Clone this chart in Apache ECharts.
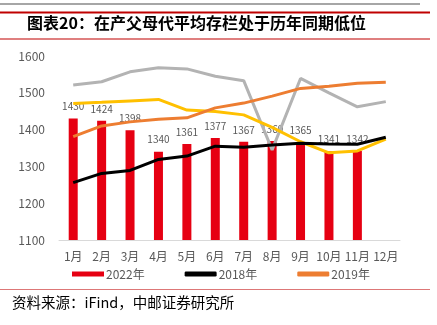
<!DOCTYPE html>
<html><head><meta charset="utf-8">
<script src="https://cdn.jsdelivr.net/npm/echarts@6/dist/echarts.min.js"></script>
<style>html,body{margin:0;padding:0;background:#fff}#c{width:437px;height:325px}</style>
</head><body><div id="c"></div>
<script>
var categories = ['1月','2月','3月','4月','5月','6月','7月','8月','9月','10月','11月','12月'];
var s2022 = [1430,1424,1398,1340,1361,1377,1367,1369,1365,1341,1342,null];
var s2018 = [1256,1281,1289,1319,1328,1355,1352,1358,1363,1361,1360,1379];
var s2019 = [1381,1410,1421,1428,1432,1459,1472,1491,1512,1518,1526,1529];
var sGray = [1521,1530,1557,1568,1565,1545,1533,1345,1539,1500,1462,1476];
var sYellow = [1471,1474,1478,1482,1453,1449,1440,1406,1367,1337,1342,1374];
var yTicks = [1100,1200,1300,1400,1500,1600];
var titleText = '图表20：在产父母代平均存栏处于历年同期低位';
var sourceText = '资料来源：iFind，中邮证券研究所';

var chart = echarts.init(document.getElementById('c'));
var font = '"Microsoft YaHei","Noto Sans CJK SC",sans-serif';
chart.setOption({
  animation: false,
  textStyle: {fontFamily: font},
  graphic: [
    {type:'rect', shape:{x:0,y:3,width:420,height:2}, style:{fill:'#a6a6a6'}},
    {type:'rect', shape:{x:0,y:11.5,width:430,height:2}, style:{fill:'#c00000'}},
    {type:'text', left:27, top:15, style:{text:titleText, font:'bold 16px "Noto Sans CJK SC"', fill:'#000'}},
    {type:'rect', shape:{x:0,y:38.5,width:430,height:1}, style:{fill:'#c00000'}},
    {type:'rect', shape:{x:0,y:289,width:430,height:1}, style:{fill:'#d77'}},
    {type:'text', left:12, top:295, style:{text:sourceText, font:'14.5px "Noto Sans CJK SC"', fill:'#000'}}
  ],
  grid: {left:59, right:37, top:56, bottom:85, containLabel:false},
  legend: {
    data: [
      {name:'2022年', icon:'rect'},
      {name:'2018年', icon:'roundRect', itemStyle:{borderWidth:0}},
      {name:'2019年', icon:'roundRect', itemStyle:{borderWidth:0}}
    ],
    bottom: 40, left: 67, itemGap: 40, itemWidth: 32, itemHeight: 5,
    textStyle: {color:'#595959', fontSize:12, fontFamily:font, padding:[0,0,0,-3]}
  },
  xAxis: {
    type:'category', data: categories,
    axisLine:{lineStyle:{color:'#d9d9d9'}}, axisTick:{show:false},
    axisLabel:{color:'#595959', fontSize:12, margin:10, interval:0}
  },
  yAxis: {
    type:'value', min:1100, max:1600, interval:100,
    axisLine:{show:false}, axisTick:{show:false}, splitLine:{show:false},
    axisLabel:{color:'#595959', fontSize:12, margin:14, formatter: function(v){return String(v);}}
  },
  series: [
    {name:'2022年', type:'bar', data:s2022, barWidth:9, itemStyle:{color:'#e60012'},
     label:{show:true, position:'top', distance:7, color:'#595959', fontSize:10}, z:1},
    {name:'2020年', type:'line', data:sGray, symbol:'none', lineStyle:{color:'#b3b3b3', width:3}, itemStyle:{color:'#b3b3b3'}, z:3},
    {name:'2021年', type:'line', data:sYellow, symbol:'none', lineStyle:{color:'#ffc000', width:3}, itemStyle:{color:'#ffc000'}, z:3},
    {name:'2018年', type:'line', data:s2018, symbol:'none', lineStyle:{color:'#000', width:3}, itemStyle:{color:'#000'}, z:4},
    {name:'2019年', type:'line', data:s2019, symbol:'none', lineStyle:{color:'#ed7d31', width:3}, itemStyle:{color:'#ed7d31'}, z:3}
  ]
});
</script></body></html>
